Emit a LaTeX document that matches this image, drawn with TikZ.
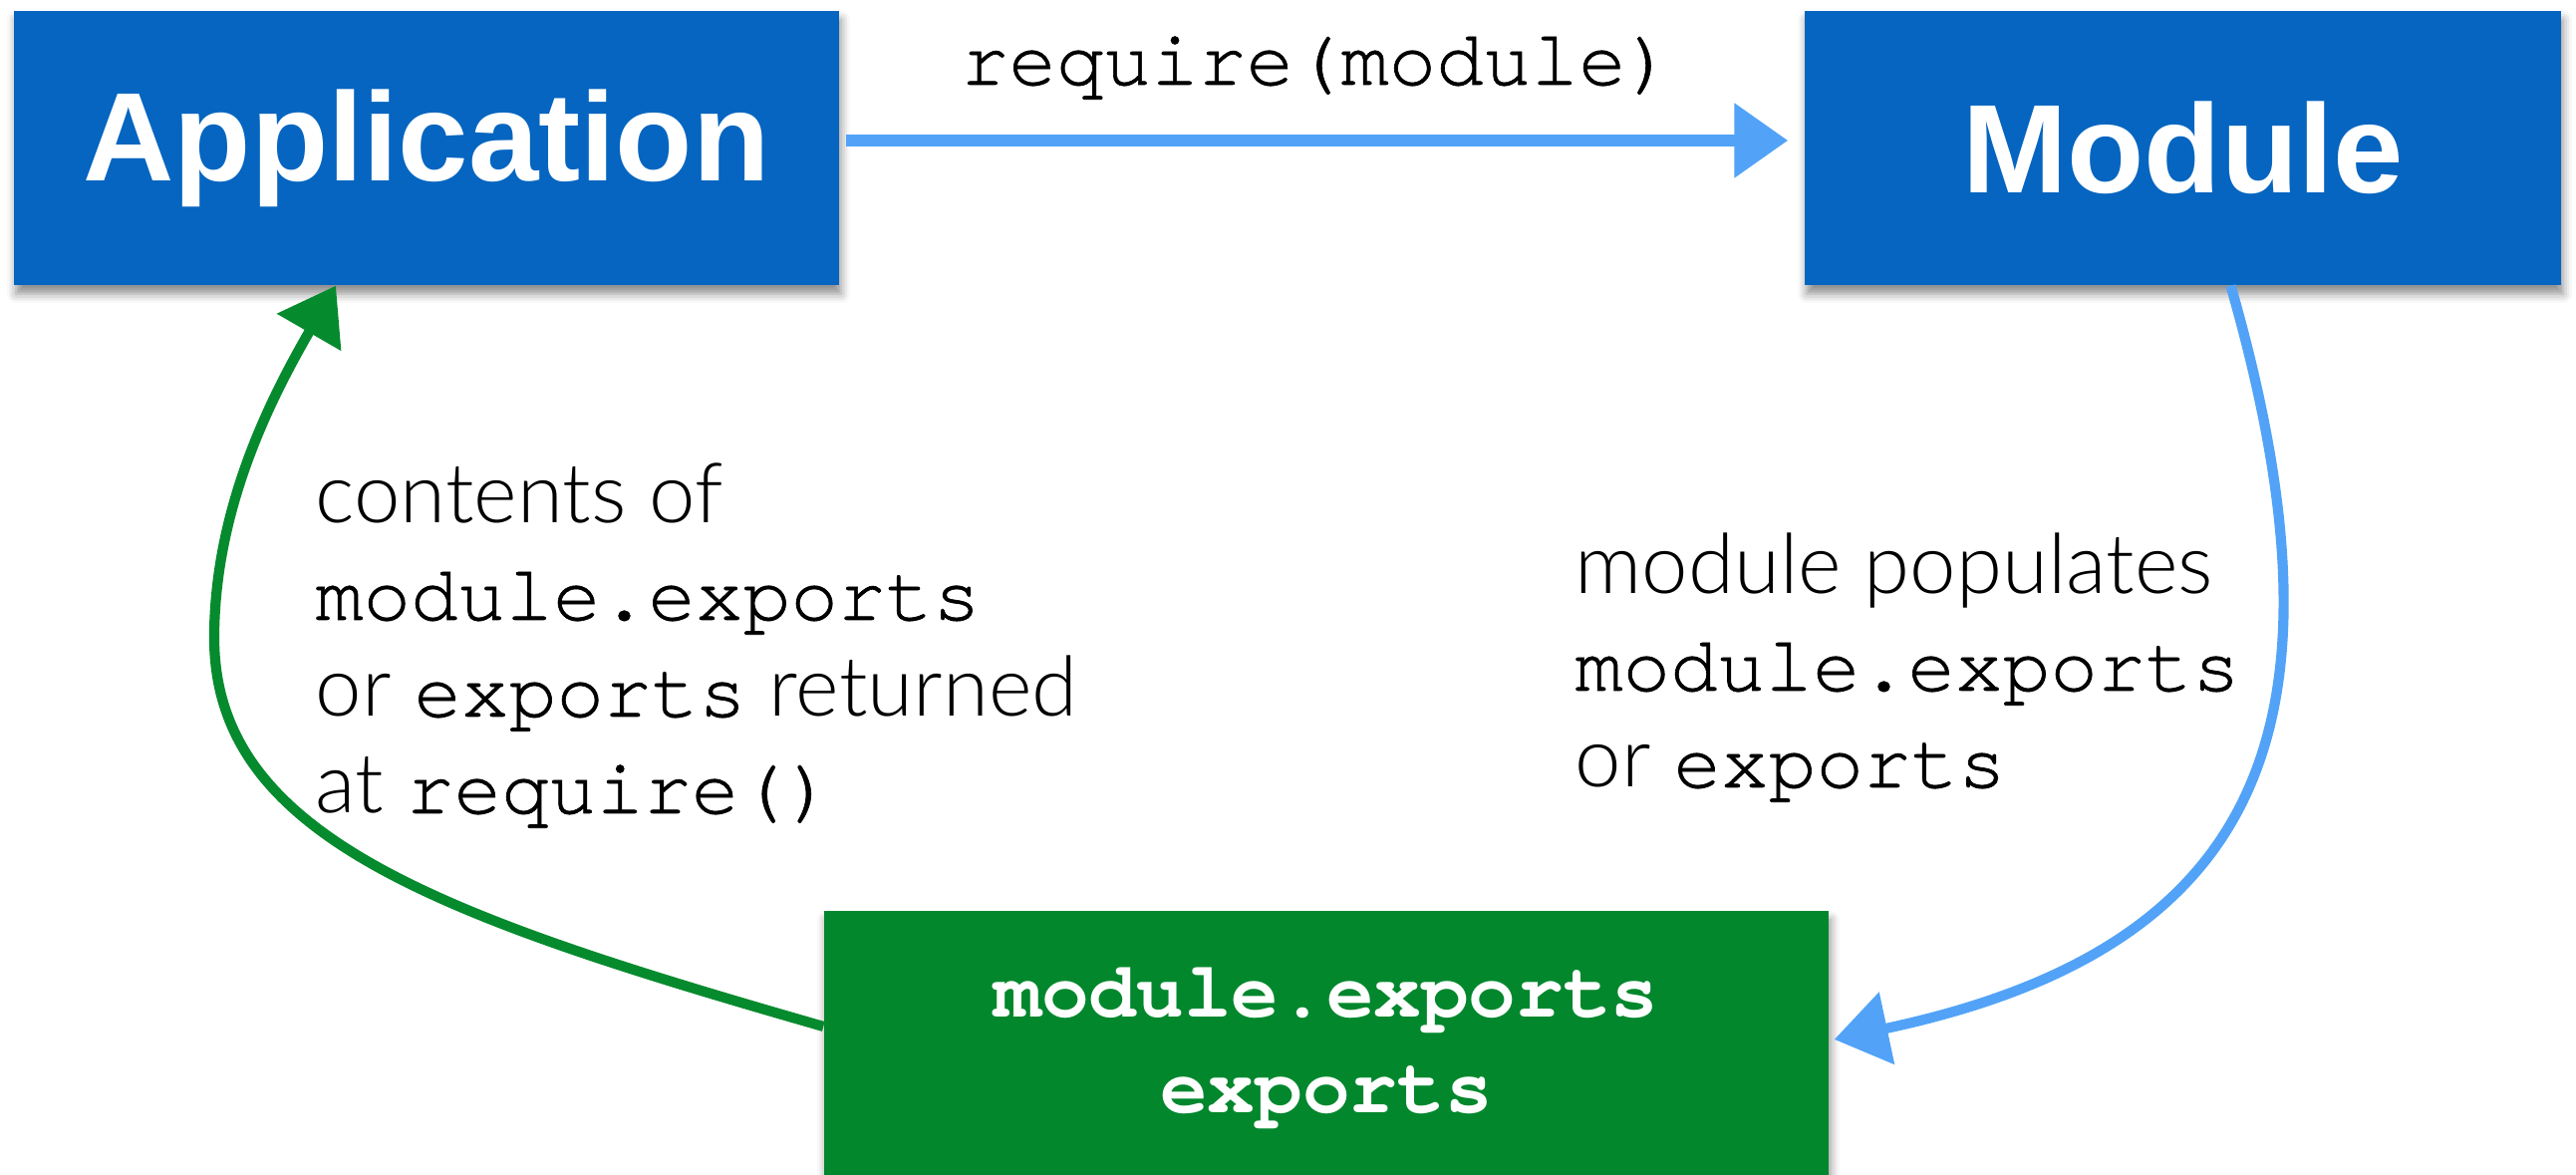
\documentclass[tikz,border=0pt]{standalone}
\usepackage{fontspec}
\newfontfamily\boxfont{Liberation Sans}
\IfFontExistsTF{Lato Light}{\setmainfont{Lato Light}[Scale=1.05]}{\setmainfont{Liberation Sans}}
\IfFontExistsTF{TeX Gyre Cursor}
  {\newfontfamily\codefont{TeX Gyre Cursor}[FakeBold=0.8, BoldFeatures={FakeBold=0}]}
  {\newfontfamily\codefont{Liberation Mono}}
\usepackage{tikz}
\usetikzlibrary{arrows.meta, shadows.blur}

\definecolor{boxblue}{HTML}{0565C0}
\definecolor{boxgreen}{HTML}{02872D}
\definecolor{chalkblue}{HTML}{52A3F7}
\definecolor{chalkgreen}{HTML}{068A2E}

% Courier for the code bits
\newcommand{\code}[1]{{\codefont #1}}

\begin{document}
\begin{tikzpicture}[
      block/.style={rectangle, fill=boxblue, text=white, minimum width=8.28cm, minimum height=2.75cm, inner sep=0pt,
        font=\boxfont\fontsize{36}{40}\selectfont\bfseries,
        blur shadow={shadow xshift=0.2mm, shadow yshift=-0.9mm, shadow blur radius=0.9mm, shadow opacity=45}},
      store/.style={rectangle, fill=boxgreen, text=white, minimum width=10.08cm, minimum height=2.75cm, align=center,
        font=\fontsize{22.6}{27.3}\selectfont,
        blur shadow={shadow xshift=0.2mm, shadow yshift=-0.9mm, shadow blur radius=0.9mm, shadow opacity=45}},
      note/.style={anchor=base west, inner sep=0pt, align=left, font=\fontsize{22.6}{27.6}\selectfont},
      chalk/.style={line width=2.9pt, -{Triangle[length=5.4mm, width=7.2mm]}}]

      \useasboundingbox (0,0) rectangle (25.85,11.79);

      % Blocks
      \node[block] (app) at (4.28,10.305) {Application};
      \node[block, minimum width=7.59cm] (mod) at (21.905,10.305) {Module};
      \node[store] (exp) at (13.31,1.275) {\code{\bfseries module.exports}\\\code{\bfseries exports}};

      % Labels (base = last line)
      \node[note, anchor=base] (req) at (13.22,10.94) {\code{require(module)}};
      \node[note] (fill) at (15.80,3.89) {module populates\\\code{module.exports}\\or \code{exports}};
      \node[note] (back) at (3.16,3.63) {contents of\\\code{module.exports}\\or \code{exports} returned\\at \code{require()}};

      % leftmost point of the return loop
      \coordinate (turn) at (2.15,5.39);

      % Arrows
      \draw[chalk, draw=chalkblue, line width=3.6pt] ([xshift=0.6mm, yshift=0.75mm]app.east) -- ([xshift=-1.6mm, yshift=0.75mm]mod.west);
      \draw[chalk, draw=chalkblue] ([xshift=4.8mm]mod.south) .. controls +(-74:4.6) and +(12:4.4) .. ([xshift=0.5mm, yshift=0.85mm]exp.east);
      \draw[chalk, draw=chalkgreen] ([yshift=2.15mm]exp.west) .. controls +(164:4) and +(0,-2) .. (turn)
        .. controls +(0,1.3) and +(-120:1.3) .. ([xshift=-9.1mm]app.south);
    \end{tikzpicture}
\end{document}
